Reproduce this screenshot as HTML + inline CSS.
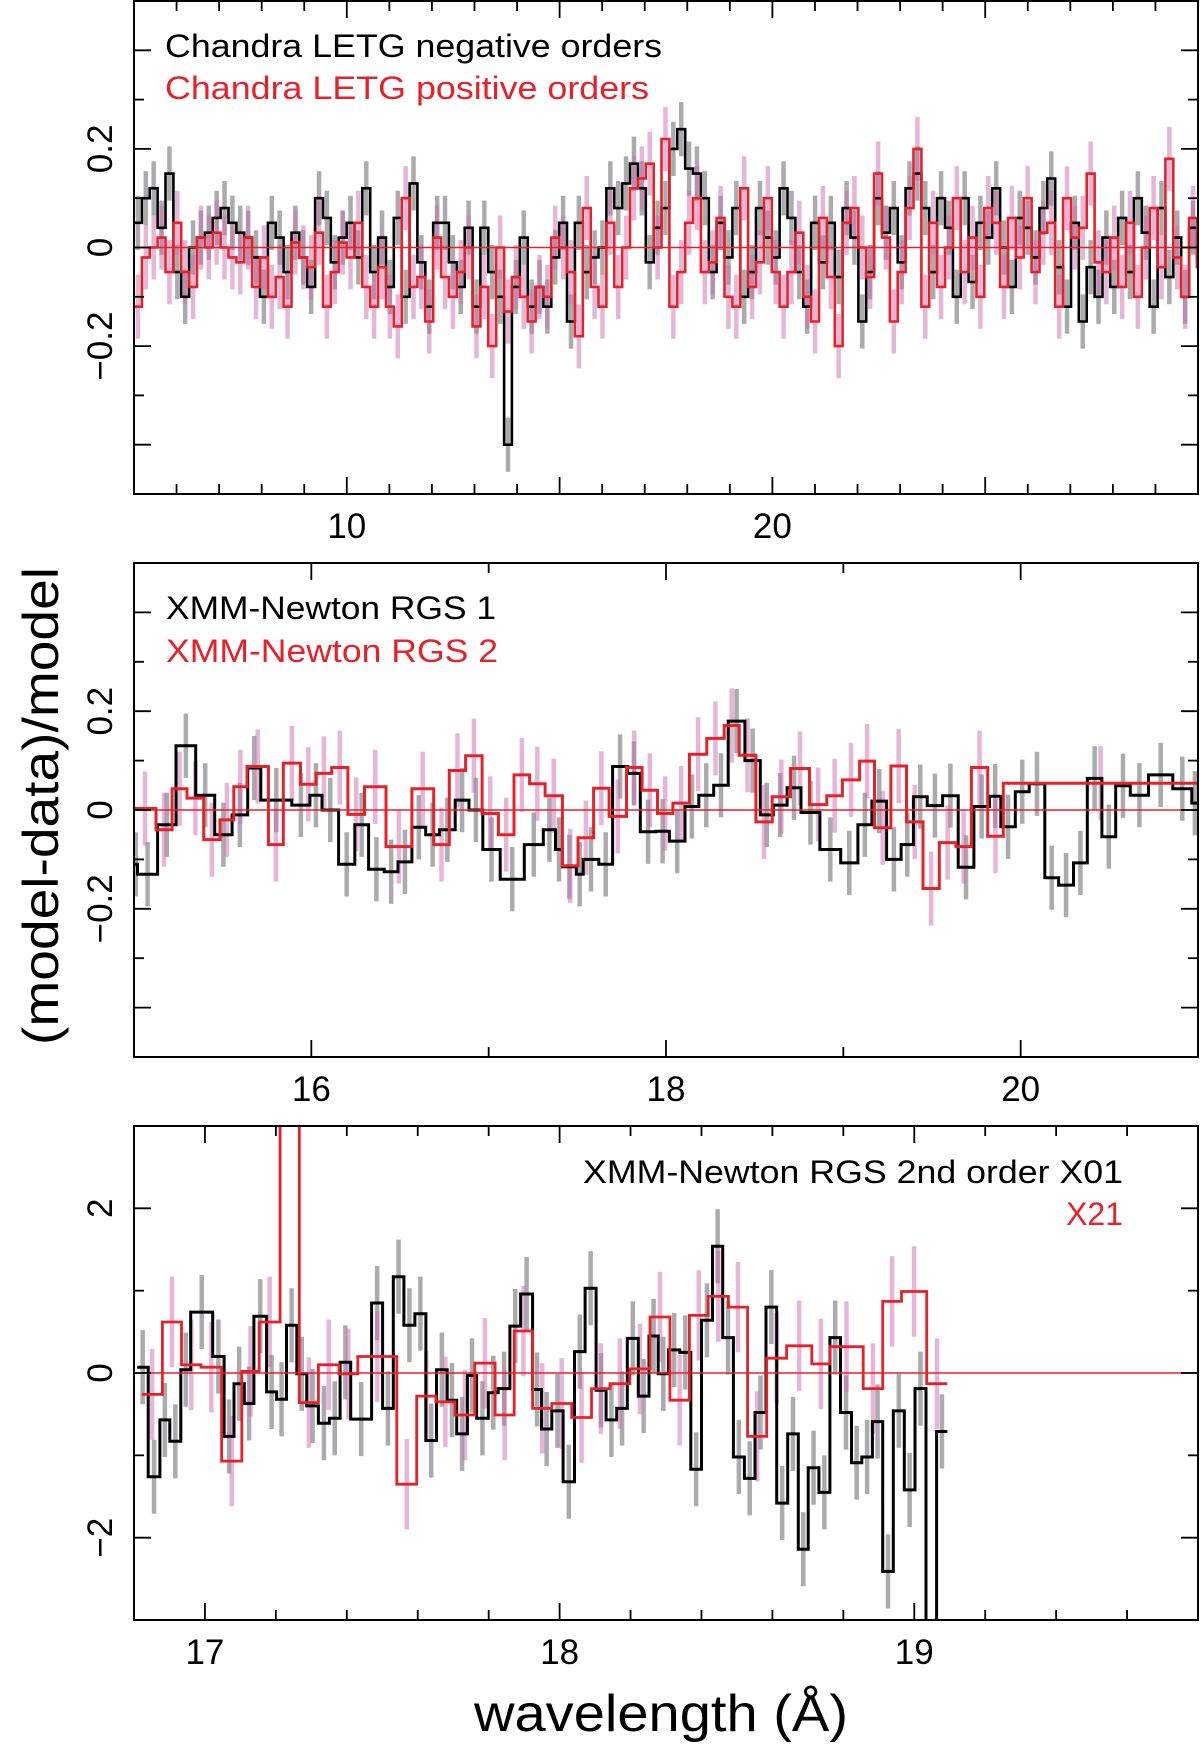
<!DOCTYPE html>
<html><head><meta charset="utf-8"><style>
html,body{margin:0;padding:0;background:#fff;}
svg{display:block;font-family:"Liberation Sans",Arial,sans-serif;}
</style></head><body>
<svg id="chart" width="1200" height="1754" viewBox="0 0 1200 1754" xmlns="http://www.w3.org/2000/svg">
<defs>
<clipPath id="clip1"><rect x="134" y="1" width="1064" height="493"/></clipPath>
<clipPath id="clip2"><rect x="134" y="563" width="1064" height="494"/></clipPath>
<clipPath id="clip3"><rect x="134" y="1126" width="1064" height="494"/></clipPath>
</defs>
<g id="layer"></g>
<text x="0" y="0" transform="translate(58,806) rotate(-90)" text-anchor="middle" font-size="50" textLength="478" lengthAdjust="spacingAndGlyphs">(model-data)/model</text>
<text x="661" y="1731" text-anchor="middle" font-size="52" textLength="374" lengthAdjust="spacingAndGlyphs">wavelength (Å)</text>
<text x="165" y="57" font-size="32" textLength="497" lengthAdjust="spacingAndGlyphs" fill="#000">Chandra LETG negative orders</text>
<text x="165" y="99" font-size="32" textLength="484" lengthAdjust="spacingAndGlyphs" fill="#e8202a">Chandra LETG positive orders</text>
<text x="166" y="619" font-size="32" textLength="330" lengthAdjust="spacingAndGlyphs" fill="#000">XMM-Newton RGS 1</text>
<text x="166" y="662" font-size="32" textLength="332" lengthAdjust="spacingAndGlyphs" fill="#e8202a">XMM-Newton RGS 2</text>
<text x="1123" y="1183" font-size="32" text-anchor="end" textLength="540" lengthAdjust="spacingAndGlyphs" fill="#000">XMM-Newton RGS 2nd order  X01</text>
<text x="1123" y="1225" font-size="32" text-anchor="end" fill="#e8202a">X21</text>
</svg>
<script>
// ---------- Panel 1: Chandra LETG (uniform bins from 5 Å) ----------
const p1Start = 5.0;
const p1BinWidth = 0.185;
const p1Negative = [0.05,0.1,0.12,0.04,0.15,-0.05,-0.1,0.0,0.02,0.03,
0.06,0.08,0.05,0.03,0.02,-0.02,-0.1,0.05,0.02,-0.05,
0.03,-0.02,-0.08,0.1,0.06,-0.03,0.02,0.05,-0.02,0.12,
-0.05,0.02,-0.08,0.06,-0.1,0.13,-0.03,-0.12,0.05,0.05,
-0.03,-0.08,0.04,-0.12,0.04,-0.05,-0.1,-0.4,-0.08,0.02,
-0.12,-0.08,-0.12,-0.02,0.05,-0.15,0.05,-0.05,-0.02,0.0,
0.12,0.08,0.13,0.17,0.12,-0.03,0.04,0.08,0.2,0.24,
0.16,0.15,0.1,-0.05,0.05,-0.02,0.08,-0.1,-0.05,0.08,
0.02,-0.02,0.12,0.06,-0.05,-0.12,0.05,-0.03,0.05,-0.06,
0.08,0.02,-0.15,-0.05,0.1,0.03,0.08,-0.03,0.12,0.15,
0.08,-0.05,0.1,0.04,-0.1,0.1,-0.07,0.05,0.02,0.12,
0.0,-0.08,0.06,0.04,-0.02,0.08,0.14,-0.04,-0.12,0.05,
-0.15,-0.04,-0.1,0.02,-0.08,0.06,-0.05,0.1,0.03,-0.12,
0.08,-0.06,0.02,-0.1,0.04,-0.02];
const p1Positive = [-0.12,-0.02,0.0,0.02,-0.05,0.05,-0.05,-0.08,0.02,0.0,
0.03,0.0,-0.02,-0.03,0.02,-0.08,-0.02,-0.1,-0.06,-0.12,
0.01,-0.02,-0.04,0.03,-0.12,-0.05,0.01,-0.02,0.05,-0.08,
-0.12,-0.04,-0.12,-0.16,0.1,-0.08,-0.06,-0.15,0.02,-0.06,
-0.1,-0.05,0.0,-0.16,-0.08,-0.2,0.0,-0.13,-0.06,-0.1,
-0.15,-0.08,-0.1,0.02,0.0,-0.05,-0.18,0.08,-0.08,-0.12,
0.05,-0.08,0.0,0.12,0.14,0.17,0.0,0.22,-0.12,-0.05,
0.05,0.1,-0.05,-0.03,0.06,-0.1,-0.12,0.12,-0.08,-0.03,
0.1,-0.05,-0.12,-0.05,0.03,-0.1,-0.15,0.06,-0.06,-0.2,
0.05,0.08,0.0,-0.06,0.15,0.02,-0.15,-0.05,0.08,0.2,
-0.12,0.05,-0.08,0.0,0.1,-0.05,0.02,-0.1,0.08,0.05,
-0.08,0.06,-0.02,0.1,-0.05,0.03,0.05,-0.12,0.1,0.02,
0.04,0.15,-0.03,-0.05,0.02,-0.08,0.05,-0.1,0.0,0.08,
-0.04,0.18,-0.02,-0.1,0.06,-0.04];
const p1ErrNeg = 0.055;
const p1ErrPos = 0.065;
const p1XTickLabels = ["10","20"];
const p1YTickLabels = ["0.2","0","−0.2"];

// ---------- Panel 2: RGS 1 / RGS 2 ----------
const p2Rgs1Edges = [15.0,15.020,15.133,15.237,15.348,15.455,15.553,15.641,15.715,15.890,15.992,16.060,16.154,16.245,16.323,16.411,16.489,16.567,16.645,16.723,16.811,16.889,16.967,17.065,17.201,17.308,17.377,17.416,17.494,17.533,17.621,17.699,17.783,17.855,17.943,18.019,18.107,18.185,18.269,18.351,18.445,18.532,18.605,18.683,18.761,18.868,18.985,19.082,19.161,19.244,19.326,19.395,19.473,19.560,19.648,19.736,19.824,19.888,19.970,20.048,20.136,20.214,20.298,20.376,20.458,20.536,20.618,20.721,20.858,20.965,21.0];
const p2Rgs1Values = [-0.11,-0.13,-0.03,0.13,0.03,-0.05,-0.01,0.085,0.02,0.01,0.03,0.0,-0.11,-0.03,-0.12,-0.125,-0.105,-0.035,-0.05,-0.04,0.02,0.0,-0.08,-0.14,-0.07,-0.04,-0.08,-0.115,-0.13,-0.1,-0.11,0.088,0.074,-0.044,-0.043,-0.063,0.007,0.03,0.05,0.18,0.1,-0.01,0.01,0.045,-0.005,-0.08,-0.107,-0.03,0.018,-0.1,-0.07,0.027,0.009,0.029,-0.116,0.007,0.028,-0.034,0.037,0.053,-0.137,-0.152,-0.107,0.064,-0.054,0.049,0.03,0.071,0.043,0.014];
const p2Rgs2Edges = [15.0,15.124,15.215,15.299,15.393,15.485,15.563,15.637,15.758,15.842,15.939,16.027,16.115,16.206,16.300,16.421,16.567,16.690,16.778,16.870,16.963,17.055,17.143,17.231,17.318,17.416,17.504,17.592,17.679,17.777,17.865,17.952,18.039,18.132,18.230,18.328,18.413,18.507,18.599,18.702,18.809,18.907,18.995,19.092,19.176,19.268,19.356,19.449,19.541,19.635,19.722,19.814,19.902,21.0];
const p2Rgs2Values = [0.003,-0.04,0.043,0.024,-0.06,-0.02,0.047,0.088,-0.07,0.095,0.052,0.074,0.086,-0.009,0.047,-0.074,0.043,-0.07,0.08,0.11,-0.007,-0.05,0.071,0.053,0.029,-0.113,-0.056,0.044,-0.013,0.086,0.04,-0.007,0.014,0.113,0.145,0.171,0.111,-0.024,0.027,0.084,0.011,0.029,0.061,0.099,-0.036,0.089,-0.024,-0.159,-0.066,-0.074,0.086,-0.053,0.054];
const p2ErrRgs1 = 0.065;
const p2ErrRgs2 = 0.075;
const p2XTickLabels = ["16","18","20"];
const p2YTickLabels = ["0.2","0","−0.2"];

// ---------- Panel 3: RGS 2nd order ----------
const p3X01Edges = [16.809,16.840,16.873,16.901,16.932,16.960,17.022,17.054,17.082,17.111,17.138,17.174,17.202,17.230,17.259,17.287,17.320,17.351,17.381,17.411,17.470,17.501,17.531,17.561,17.592,17.623,17.653,17.683,17.710,17.740,17.766,17.799,17.827,17.860,17.890,17.924,17.949,17.978,18.010,18.042,18.072,18.103,18.131,18.161,18.191,18.222,18.252,18.278,18.307,18.339,18.370,18.400,18.431,18.460,18.490,18.521,18.551,18.582,18.612,18.643,18.673,18.701,18.731,18.762,18.792,18.823,18.852,18.882,18.911,18.941,18.972,19.002,19.033,19.063,19.093];
const p3X01Values = [0.07,-1.26,-0.57,-0.83,0.04,0.74,0.2,-0.77,-0.13,-0.37,0.69,-0.23,-0.32,0.58,-0.01,-0.4,-0.61,-0.55,0.13,-0.56,0.85,-0.43,1.17,0.58,0.72,-0.82,0.04,-0.33,-0.74,-0.03,-0.55,-0.24,-0.19,0.57,0.96,-0.2,-0.68,-0.46,-1.32,0.26,1.03,-0.21,-0.57,-0.43,0.42,-0.28,0.45,-0.01,0.28,0.25,-1.17,0.64,1.54,0.43,-1.02,-1.28,-0.48,0.8,-1.58,-0.74,-2.14,-1.15,-1.45,0.43,-0.48,-1.09,-1.02,-0.59,-2.41,-0.46,-1.42,-0.19,-3.6,-0.71];
const p3X21Edges = [16.822,16.880,16.934,16.989,17.047,17.104,17.153,17.212,17.266,17.320,17.378,17.431,17.541,17.597,17.651,17.705,17.761,17.818,17.872,17.924,17.978,18.034,18.090,18.142,18.198,18.255,18.311,18.366,18.419,18.476,18.530,18.584,18.640,18.711,18.762,18.856,18.911,18.964,19.035,19.093];
const p3X21Values = [-0.26,0.62,0.1,0.07,-1.07,0.02,0.62,4.0,-0.36,0.1,-0.01,0.2,-1.35,-0.28,-0.35,-0.51,0.12,-0.51,0.51,-0.43,-0.37,-0.54,-0.19,-0.13,0.05,0.68,-0.33,0.7,0.93,0.8,-0.77,0.18,0.33,0.11,0.32,-0.19,0.87,0.99,-0.13];
const p3ErrX01 = 0.45;
const p3ErrX21 = 0.55;
const p3XTickLabels = ["17","18","19"];
const p3YTickLabels = ["2","0","−2"];

const NS = "http://www.w3.org/2000/svg";
const layer = document.getElementById('layer');
function mk(tag, attrs, parent){
  const e = document.createElementNS(NS, tag);
  for (const k in attrs) e.setAttribute(k, attrs[k]);
  (parent||layer).appendChild(e);
  return e;
}
const RED = "#e8202a";
const GRAYERR = "rgba(120,120,125,0.62)";
const PINKERR = "rgba(205,110,175,0.5)";

function makeAxes(left, right, top, bottom, xmin, xmax, ymin, ymax){
  const sx = v => left + (v - xmin) / (xmax - xmin) * (right - left);
  const sy = v => bottom - (v - ymin) / (ymax - ymin) * (bottom - top);
  return {sx, sy};
}

function stepPath(edges, values, ax){
  let d = "M" + ax.sx(edges[0]).toFixed(1) + "," + ax.sy(values[0]).toFixed(1) + " H" + ax.sx(edges[1]).toFixed(1);
  for (let i = 1; i < values.length; i++){
    d += " V" + ax.sy(values[i]).toFixed(1) + " H" + ax.sx(edges[i+1]).toFixed(1);
  }
  return d;
}

function drawPanel(p){
  const g = mk('g', {'clip-path': 'url(#' + p.clip + ')'});
  
  
  const ax = p.ax;
  p.series.forEach(s => {
    for (let i = 0; i < s.values.length; i++){
      const c = (s.edges[i] + s.edges[i+1]) / 2;
      const ln = mk('line', {x1: ax.sx(c), x2: ax.sx(c), y1: ax.sy(s.values[i] - s.err), y2: ax.sy(s.values[i] + s.err), stroke: s.errColor, 'stroke-width': 4.5}, g);
      
      
    }
  });
  p.series.forEach(s => {
    const path = mk('path', {d: stepPath(s.edges, s.values, ax), fill: 'none', stroke: s.color, 'stroke-width': s.width, 'stroke-linejoin': 'miter'}, g);
    
    
  });
  const zl = mk('line', {x1: p.left, x2: p.right, y1: ax.sy(0), y2: ax.sy(0), stroke: RED, 'stroke-width': 1.6}, g);
  
  
  const fr = mk('rect', {x: p.left, y: p.top, width: p.right - p.left, height: p.bottom - p.top, fill: 'none', stroke: '#000', 'stroke-width': 2});
  
  
  for (let k = 0; ; k++){
    const v = p.xTickStart + k * p.xMinor;
    if (v > p.xmax + 1e-9) break;
    if (v < p.xmin - 1e-9) continue;
    const major = Math.abs(v / p.xMajor - Math.round(v / p.xMajor)) < 1e-6;
    const L = major ? 17 : 10;
    const x = ax.sx(v);
    const t1 = mk('line', {x1: x, x2: x, y1: p.bottom, y2: p.bottom - L, stroke: '#000', 'stroke-width': 1.8});
    
    
    const t2 = mk('line', {x1: x, x2: x, y1: p.top, y2: p.top + L, stroke: '#000', 'stroke-width': 1.8});
    
    
  }
  p.xLabels.forEach(lab => {
    const tx = mk('text', {x: ax.sx(parseFloat(lab)), y: p.bottom + 44, 'text-anchor': 'middle', 'font-size': 35});
    tx.textContent = lab;
    
    
  });
  for (let k = 0; ; k++){
    const v = p.ymin + k * p.yMinor;
    if (v > p.ymax + 1e-9) break;
    const major = Math.abs(v / p.yMajor - Math.round(v / p.yMajor)) < 1e-6;
    const L = major ? 17 : 10;
    const y = ax.sy(v);
    const t1 = mk('line', {x1: p.left, x2: p.left + L, y1: y, y2: y, stroke: '#000', 'stroke-width': 1.8});
    
    
    const t2 = mk('line', {x1: p.right, x2: p.right - L, y1: y, y2: y, stroke: '#000', 'stroke-width': 1.8});
    
    
  }
  p.yLabels.forEach(lab => {
    const v = parseFloat(lab.replace('−', '-'));
    const y = ax.sy(v);
    const tx = mk('text', {x: 0, y: 0, transform: 'translate(112,' + y.toFixed(1) + ') rotate(-90)', 'text-anchor': 'middle', 'font-size': 35});
    tx.textContent = lab;
    
    
  });
}

const p1Edges = [];
for (let i = 0; i <= p1Negative.length; i++) p1Edges.push(p1Start + i * p1BinWidth);
const ax1 = makeAxes(134, 1198, 1, 494, 5, 30, -0.5, 0.5);
drawPanel({name: 'letg-panel', clip: 'clip1', ax: ax1, left: 134, right: 1198, top: 1, bottom: 494,
  xmin: 5, xmax: 30, ymin: -0.5, ymax: 0.5, xTickStart: 5, xMinor: 1, xMajor: 5, yMinor: 0.1, yMajor: 0.2,
  xLabels: p1XTickLabels, yLabels: p1YTickLabels,
  series: [
    {name: 'letg-negative', edges: p1Edges, values: p1Negative, err: p1ErrNeg, errColor: GRAYERR, color: '#000', width: 2.6},
    {name: 'letg-positive', edges: p1Edges, values: p1Positive, err: p1ErrPos, errColor: PINKERR, color: RED, width: 2.6}
  ]});

const ax2 = makeAxes(134, 1198, 563, 1057, 15, 21, -0.5, 0.5);
drawPanel({name: 'rgs-panel', clip: 'clip2', ax: ax2, left: 134, right: 1198, top: 563, bottom: 1057,
  xmin: 15, xmax: 21, ymin: -0.5, ymax: 0.5, xTickStart: 15, xMinor: 1, xMajor: 2, yMinor: 0.1, yMajor: 0.2,
  xLabels: p2XTickLabels, yLabels: p2YTickLabels,
  series: [
    {name: 'rgs1', edges: p2Rgs1Edges, values: p2Rgs1Values, err: p2ErrRgs1, errColor: GRAYERR, color: '#000', width: 3},
    {name: 'rgs2', edges: p2Rgs2Edges, values: p2Rgs2Values, err: p2ErrRgs2, errColor: PINKERR, color: RED, width: 3}
  ]});

const ax3 = makeAxes(134, 1198, 1126, 1620, 16.8, 19.8, -3, 3);
drawPanel({name: 'rgs-2nd-panel', clip: 'clip3', ax: ax3, left: 134, right: 1198, top: 1126, bottom: 1620,
  xmin: 16.8, xmax: 19.8, ymin: -3, ymax: 3, xTickStart: 16.8, xMinor: 0.2, xMajor: 1, yMinor: 1, yMajor: 2,
  xLabels: p3XTickLabels, yLabels: p3YTickLabels,
  series: [
    {name: 'rgs-x01', edges: p3X01Edges, values: p3X01Values, err: p3ErrX01, errColor: GRAYERR, color: '#000', width: 3},
    {name: 'rgs-x21', edges: p3X21Edges, values: p3X21Values, err: p3ErrX21, errColor: PINKERR, color: RED, width: 2.8}
  ]});
</script>
</body></html>
